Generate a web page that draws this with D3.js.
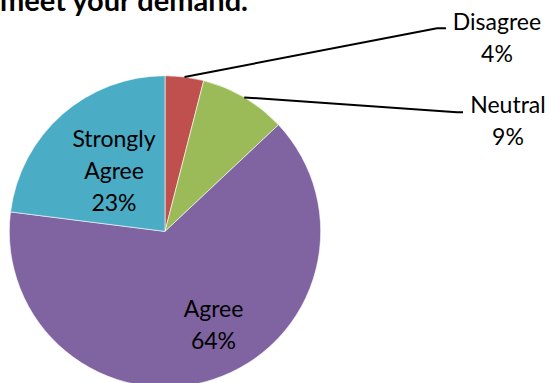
<!DOCTYPE html>
<html>
<head>
<meta charset="utf-8">
<script src="https://cdn.jsdelivr.net/npm/d3@7"></script>
<style>
  html, body { margin: 0; padding: 0; background: #fff; }
  svg { display: block; }
  text { font-family: Lato, "Open Sans", sans-serif; fill: #000; }
</style>
</head>
<body>
<svg id="chart" width="553" height="383"></svg>
<script>
// Survey response shares, in percent, clockwise from 12 o'clock
const categories = ["Disagree", "Neutral", "Agree", "Strongly Agree"];
const shares = [4, 9, 64, 23];
const colors = ["#C0504D", "#9BBB59", "#8064A2", "#4BACC6"];
const titleText = "meet your demand.";

const W = 553, H = 383;
const cx = 165, cy = 231.4, R = 155.7;
const fontSize = 23;
const lineGap = 32;

const svg = d3.select("#chart");

const rows = categories.map((name, i) => ({ name, value: shares[i], color: colors[i] }));

const pie = d3.pie().value(d => d.value).sort(null).startAngle(0).endAngle(2 * Math.PI);
const arc = d3.arc().innerRadius(0).outerRadius(R);
const arcs = pie(rows);

const g = svg.append("g").attr("transform", `translate(${cx},${cy})`);

g.selectAll("path.slice")
  .data(arcs)
  .join("path")
  .attr("class", "slice")
  .attr("d", arc)
  .attr("fill", d => d.data.color)
  .attr("stroke", "#fff")
  .attr("stroke-width", 0.6);

// Title (runs off the left edge of the canvas)
svg.append("text")
  .attr("x", 248)
  .attr("y", 11)
  .attr("text-anchor", "end")
  .attr("font-size", 29)
  .attr("font-weight", "bold")
  .text(titleText);

// Label placement: inside labels sit in the slice, outside ones are
// connected to the rim by a leader line with a short horizontal elbow.
const labelLayout = {
  "Disagree":       { outside: true, x: 497, y: 30, elbow: [437, 28.3], end: [446, 28.3] },
  "Neutral":        { outside: true, x: 508, y: 112.5, elbow: [457, 112.3], end: [463, 112.3] },
  "Agree":          { outside: false, x: 213.5, y: 316.7 },
  "Strongly Agree": { outside: false, x: 114, y: 147.3 }
};

const rimPoint = d => {
  const a = (d.startAngle + d.endAngle) / 2;
  return [cx + R * Math.sin(a), cy - R * Math.cos(a)];
};

arcs.forEach(d => {
  const L = labelLayout[d.data.name];
  const words = d.data.name.split(" ");
  const lines = [...words, d.data.value + "%"];
  if (L.outside) {
    const p0 = rimPoint(d);
    svg.append("path")
      .attr("d", d3.line()([p0, L.elbow, L.end]))
      .attr("fill", "none")
      .attr("stroke", "#000")
      .attr("stroke-width", 2);
  }
  const t = svg.append("text")
    .attr("text-anchor", "middle")
    .attr("font-size", fontSize);
  lines.forEach((ln, i) => {
    t.append("tspan")
      .attr("x", L.x)
      .attr("y", L.y + i * lineGap)
      .text(ln);
  });
});
</script>
</body>
</html>
